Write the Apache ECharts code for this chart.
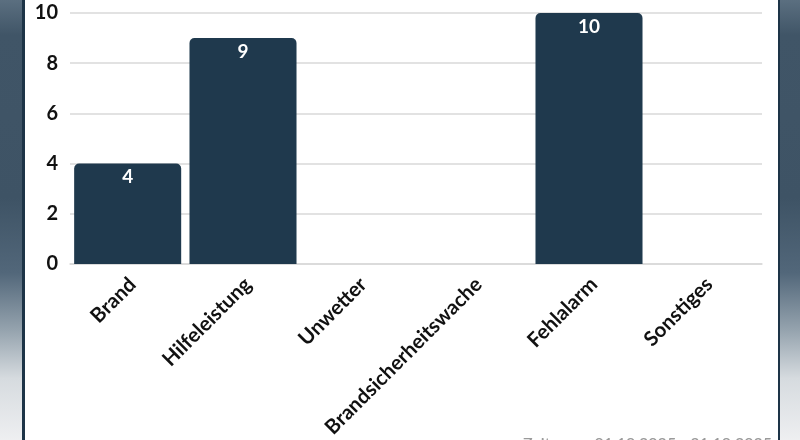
<!DOCTYPE html>
<html>
<head>
<meta charset="utf-8">
<script src="https://cdn.jsdelivr.net/npm/echarts@6/dist/echarts.min.js"></script>
<style>
  html, body { margin: 0; padding: 0; width: 800px; height: 440px; overflow: hidden; }
  body {
    background: linear-gradient(to bottom, #5b6f80 0%, #405567 8%, #3e5365 45%, #52677a 62%, #95a3ae 75%, #d6dbdf 86%, #eeeff1 100%);
    position: relative;
  }
  #panel {
    position: absolute; left: 22px; top: 0; width: 753px; height: 440px;
    background: #ffffff; border-left: 3px solid #1d3447; border-right: 2px solid #1d3447;
  }
  #chart { position: absolute; left: 0; top: 0; width: 800px; height: 440px; }
</style>
</head>
<body>
<div id="panel"></div>
<div id="chart"></div>
<script>
const categories = ['Brand', 'Hilfeleistung', 'Unwetter', 'Brandsicherheitswache', 'Fehlalarm', 'Sonstiges'];
const values = [4, 9, 0, 0, 10, 0];
const yTicks = [0, 2, 4, 6, 8, 10];
const footerText = 'Zeitraum: 01.10.2025 - 31.10.2025';

const chart = echarts.init(document.getElementById('chart'), null, { renderer: 'canvas' });
chart.setOption({
  backgroundColor: 'transparent',
  animation: false,
  textStyle: { fontFamily: 'Lato' },
  grid: { left: 70, right: 38, top: 13, bottom: 176, containLabel: false, outerBoundsMode: 'none' },
  xAxis: {
    type: 'category',
    data: categories,
    axisTick: { show: false },
    axisLine: { show: true, lineStyle: { color: '#d9d9d9', width: 1.5 } },
    axisLabel: {
      rotate: 45, interval: 0, margin: 22,
      padding: [0, -7, 0, 0],
      color: '#111111', fontSize: 20.5, fontWeight: 'bold', fontFamily: 'Lato'
    }
  },
  yAxis: {
    type: 'value',
    min: yTicks[0], max: yTicks[yTicks.length - 1], interval: 2,
    axisLine: { show: false },
    axisTick: { show: false },
    splitLine: { lineStyle: { color: '#d9d9d9', width: 1.5 } },
    axisLabel: { color: '#111111', fontSize: 20, fontWeight: 'bold', margin: 12, fontFamily: 'Lato' }
  },
  series: [{
    type: 'bar',
    data: values,
    barCategoryGap: '7.2%',
    itemStyle: { color: '#1f394d', borderRadius: [5, 5, 0, 0] },
    label: {
      show: true, position: 'insideTop', distance: 4,
      color: '#ffffff', fontSize: 19, fontWeight: 'bold', fontFamily: 'Lato',
      formatter: p => p.value > 0 ? String(p.value) : ''
    }
  }],
  graphic: [{
    type: 'text', right: 28, top: 436,
    style: { text: footerText, fill: '#9a9a9a', font: '500 16px Lato' }
  }]
});
</script>
</body>
</html>
